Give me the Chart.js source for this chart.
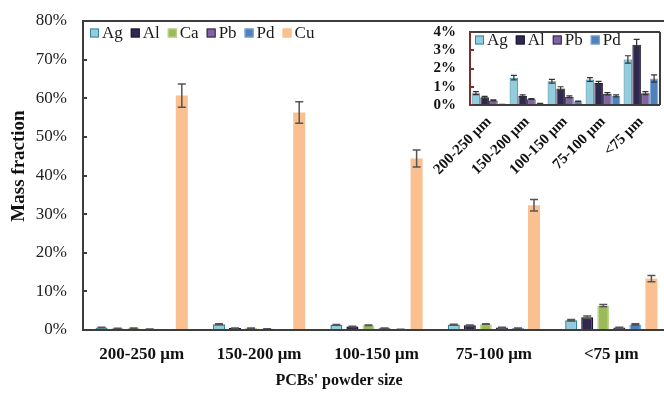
<!DOCTYPE html>
<html>
<head>
<meta charset="utf-8">
<script src="https://cdn.jsdelivr.net/npm/chart.js@4.4.1/dist/chart.umd.min.js"></script>
<style>
  html, body { margin:0; padding:0; background:#fff; overflow:hidden; }
  #wrap { position:relative; width:664px; height:393px; overflow:hidden; }
  #main { position:absolute; left:0; top:0; }
  #inset { position:absolute; left:420px; top:22px; }
</style>
</head>
<body>
<div id="wrap">
  <canvas id="main" width="684" height="393"></canvas>
  <canvas id="inset" width="244" height="170"></canvas>
</div>
<script>
// ---- data (mass fraction, %) ----
const categories = ['200-250 μm', '150-200 μm', '100-150 μm', '75-100 μm', '<75 μm'];
const seriesNames = ['Ag', 'Al', 'Ca', 'Pb', 'Pd', 'Cu'];
const ag = [0.65, 1.50, 1.30, 1.40, 2.50];
const al = [0.42, 0.50, 0.90, 1.20, 3.30];
const ca = [0.50, 0.50, 1.20, 1.50, 6.30];
const pb = [0.25, 0.32, 0.45, 0.62, 0.65];
const pd = [0.02, 0.08, 0.20, 0.50, 1.45];
const cu = [60.7, 56.3, 44.4, 32.3, 13.3];
const agErr = [0.08, 0.12, 0.10, 0.10, 0.20];
const alErr = [0.05, 0.05, 0.10, 0.10, 0.30];
const caErr = [0.05, 0.05, 0.10, 0.10, 0.30];
const pbErr = [0.03, 0.03, 0.05, 0.06, 0.08];
const pdErr = [0.01, 0.01, 0.02, 0.05, 0.20];
const cuErr = [3.0, 2.8, 2.2, 1.5, 0.8];
const mainTickValues = [0, 10, 20, 30, 40, 50, 60, 70, 80];
const insetTickValues = [0, 1, 2, 3, 4];
const insetSeries = ['Ag', 'Al', 'Pb', 'Pd'];

// ---- styles ----
const styles = {
  Ag: { bg: '#93CDDD', border: '#31859C' },
  Al: { bg: '#302850', border: '#1C1830' },
  Ca: { bg: '#9BBB59', border: '#BFD48F' },
  Pb: { bg: '#8064A2', border: '#2E2540' },
  Pd: { bg: '#4F81BD', border: '#7FA6D6' },
  Cu: { bg: '#FAC090', border: '#FAC090' }
};
const valuesBy = { Ag: ag, Al: al, Ca: ca, Pb: pb, Pd: pd, Cu: cu };
const errorsBy = { Ag: agErr, Al: alErr, Ca: caErr, Pb: pbErr, Pd: pdErr, Cu: cuErr };
const SERIF = '"Liberation Serif", "Times New Roman", serif';

function makeDatasets(names, bw) {
  return names.map(n => ({
    label: n,
    data: valuesBy[n],
    errors: errorsBy[n],
    backgroundColor: styles[n].bg,
    borderColor: styles[n].border,
    borderWidth: n === 'Cu' ? 0 : bw,
    borderSkipped: 'bottom'
  }));
}

function errorBars(color, width, cap) {
  return {
    id: 'errbars',
    afterDatasetsDraw(chart) {
      const ctx = chart.ctx, y = chart.scales.y;
      chart.data.datasets.forEach((ds, di) => {
        const meta = chart.getDatasetMeta(di);
        meta.data.forEach((bar, i) => {
          const v = ds.data[i], e = ds.errors[i];
          const yt = y.getPixelForValue(v + e);
          const yb = y.getPixelForValue(Math.max(0, v - e));
          ctx.save();
          ctx.strokeStyle = color; ctx.lineWidth = width;
          ctx.beginPath();
          ctx.moveTo(bar.x, yt); ctx.lineTo(bar.x, yb);
          ctx.moveTo(bar.x - cap, yt); ctx.lineTo(bar.x + cap, yt);
          ctx.moveTo(bar.x - cap, yb); ctx.lineTo(bar.x + cap, yb);
          ctx.stroke();
          ctx.restore();
        });
      });
    }
  };
}

function boxFrame(boxColor, leftColor, tickLen, lw) {
  return {
    id: 'boxframe',
    afterDraw(chart) {
      const ctx = chart.ctx, a = chart.chartArea, y = chart.scales.y;
      const L = Math.round(a.left), R = Math.round(a.right), T = Math.round(a.top), B = Math.round(a.bottom);
      ctx.save();
      ctx.fillStyle = boxColor;
      ctx.fillRect(L, T - 1, R - L, lw);
      ctx.fillRect(L, B - 1, R - L, lw);
      ctx.fillRect(R - 1, T, lw, B - T);
      ctx.fillStyle = leftColor;
      ctx.fillRect(L - 1, T - 1, lw, B - T + lw);
      y.ticks.forEach(t => {
        const py = Math.round(y.getPixelForValue(t.value));
        ctx.fillRect(L, py - 1, tickLen, lw);
      });
      ctx.restore();
    }
  };
}

function legend(startX, cy, font) {
  return {
    id: 'lg',
    afterDraw(chart) {
      const ctx = chart.ctx;
      ctx.save();
      ctx.font = font;
      ctx.textBaseline = 'middle';
      let x = startX;
      chart.data.datasets.forEach(ds => {
        ctx.fillStyle = ds.backgroundColor;
        ctx.fillRect(x, cy - 4.5, 9, 9);
        ctx.strokeStyle = ds.borderColor;
        ctx.lineWidth = 1;
        ctx.strokeRect(x + 0.5, cy - 4, 8, 8);
        ctx.fillStyle = '#1a1a1a';
        ctx.fillText(ds.label, x + 12, cy + 1);
        x += 12 + ctx.measureText(ds.label).width + 8;
      });
      ctx.restore();
    }
  };
}

const titles = {
  id: 'titles',
  afterDraw(chart) {
    const ctx = chart.ctx;
    ctx.save();
    ctx.fillStyle = '#111';
    ctx.textAlign = 'center';
    ctx.textBaseline = 'middle';
    ctx.font = 'bold 16px ' + SERIF;
    ctx.fillText("PCBs' powder size", 339, 381);
    ctx.translate(19, 166);
    ctx.rotate(-Math.PI / 2);
    ctx.font = 'bold 19px ' + SERIF;
    ctx.fillText('Mass fraction', 0, 0);
    ctx.restore();
  }
};

function noVPad(s) { s.paddingTop = 0; s.paddingBottom = 0; }

// ---- main chart ----
new Chart(document.getElementById('main'), {
  type: 'bar',
  data: { labels: categories, datasets: makeDatasets(seriesNames, 1.5) },
  options: {
    responsive: false, animation: false, devicePixelRatio: 1,
    layout: { padding: { left: 0, right: 14, top: 21, bottom: 0 } },
    datasets: { bar: { categoryPercentage: 0.82, barPercentage: 0.75 } },
    plugins: { legend: { display: false }, tooltip: { enabled: false } },
    scales: {
      x: {
        grid: { display: false, drawTicks: false }, border: { display: false },
        ticks: { padding: 14, color: '#111', font: { family: SERIF, size: 17, weight: 'bold' }, maxRotation: 0, autoSkip: false },
        afterFit: s => { s.height = 63; }
      },
      y: {
        min: 0, max: 80,
        grid: { display: false, drawTicks: false }, border: { display: false },
        afterBuildTicks: s => { s.ticks = mainTickValues.map(v => ({ value: v })); },
        ticks: { padding: 16, autoSkip: false, color: '#222', font: { family: SERIF, size: 17 }, callback: v => v + '%' },
        afterFit: s => { s.width = 83; noVPad(s); }
      }
    }
  },
  plugins: [boxFrame('#3d3d3d', '#3d3d3d', 4, 2), errorBars('#555', 1.5, 4), legend(90, 33, '17px ' + SERIF), titles]
});

// ---- inset chart ----
new Chart(document.getElementById('inset'), {
  type: 'bar',
  data: { labels: categories, datasets: makeDatasets(insetSeries, 1) },
  options: {
    responsive: false, animation: false, devicePixelRatio: 1,
    layout: { padding: { left: 0, right: 4, top: 10, bottom: 0 } },
    datasets: { bar: { categoryPercentage: 0.92, barPercentage: 0.98 } },
    plugins: { legend: { display: false }, tooltip: { enabled: false } },
    scales: {
      x: {
        grid: { display: false, drawTicks: false }, border: { display: false },
        ticks: { padding: 8, color: '#111', font: { family: SERIF, size: 15, weight: 'bold' }, minRotation: 45, maxRotation: 45, autoSkip: false },
        afterFit: s => { s.height = 87; }
      },
      y: {
        min: 0, max: 4,
        grid: { display: false, drawTicks: false }, border: { display: false },
        afterBuildTicks: s => { s.ticks = insetTickValues.map(v => ({ value: v })); },
        ticks: { padding: 14, autoSkip: false, color: '#111', font: { family: SERIF, size: 15, weight: 'bold' }, callback: v => v + '%' },
        afterFit: s => { s.width = 50; noVPad(s); }
      }
    }
  },
  plugins: [boxFrame('#3d3d3d', '#7a2f2f', 4, 2), errorBars('#333', 1.2, 3), legend(55, 18, '17px ' + SERIF)]
});
</script>
</body>
</html>
